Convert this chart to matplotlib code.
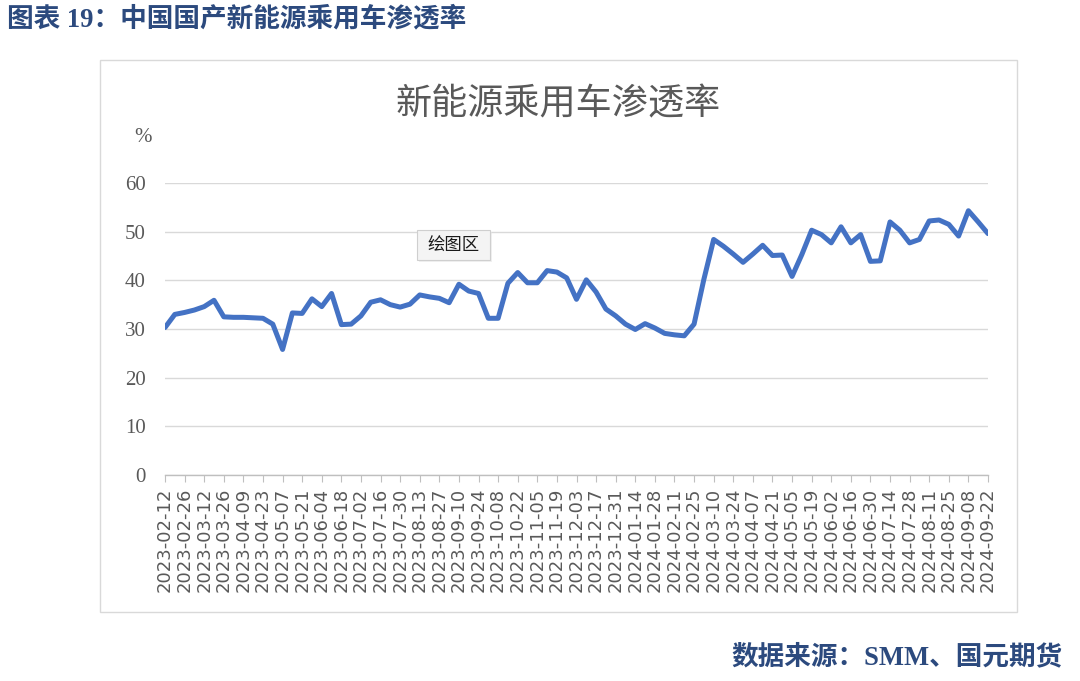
import matplotlib
matplotlib.use("Agg")
import matplotlib.pyplot as plt
from matplotlib.patches import Rectangle, FancyBboxPatch

# ---------------- data ----------------
tick_labels = [
    "2023-02-12", "2023-02-26", "2023-03-12", "2023-03-26", "2023-04-09", "2023-04-23",
    "2023-05-07", "2023-05-21", "2023-06-04", "2023-06-18", "2023-07-02", "2023-07-16",
    "2023-07-30", "2023-08-13", "2023-08-27", "2023-09-10", "2023-09-24", "2023-10-08",
    "2023-10-22", "2023-11-05", "2023-11-19", "2023-12-03", "2023-12-17", "2023-12-31",
    "2024-01-14", "2024-01-28", "2024-02-11", "2024-02-25", "2024-03-10", "2024-03-24",
    "2024-04-07", "2024-04-21", "2024-05-05", "2024-05-19", "2024-06-02", "2024-06-16",
    "2024-06-30", "2024-07-14", "2024-07-28", "2024-08-11", "2024-08-25", "2024-09-08",
    "2024-09-22",
]

penetration = [
    30.3, 33.0, 33.4, 33.9, 34.6, 35.9, 32.5, 32.4, 32.4, 32.3,
    32.2, 31.0, 25.8, 33.3, 33.2, 36.2, 34.6, 37.3, 30.9, 31.0,
    32.7, 35.5, 36.0, 35.0, 34.5, 35.1, 37.0, 36.6, 36.3, 35.4,
    39.2, 37.8, 37.3, 32.2, 32.2, 39.4, 41.6, 39.5, 39.5, 42.0,
    41.7, 40.5, 36.1, 40.1, 37.6, 34.1, 32.7, 31.0, 29.9, 31.1,
    30.2, 29.1, 28.8, 28.6, 31.0, 40.2, 48.4, 47.0, 45.4, 43.7,
    45.4, 47.2, 45.1, 45.2, 40.8, 45.3, 50.3, 49.4, 47.7, 51.0,
    47.7, 49.4, 43.9, 44.0, 52.0, 50.3, 47.7, 48.4, 52.2, 52.4,
    51.5, 49.1, 54.3, 52.0, 49.6,
]

y_ticks = [0, 10, 20, 30, 40, 50, 60]

header_text = "图表 19：中国国产新能源乘用车渗透率"
chart_title = "新能源乘用车渗透率"
source_text = "数据来源：SMM、国元期货"

# ---------------- figure ----------------
W, H = 1080, 681
fig = plt.figure(figsize=(W / 100, H / 100), dpi=100)
fig.patch.set_facecolor("white")

def fx(px):
    return px / W

def fy(py):
    return 1 - py / H

navy = "#2C4A7E"
gray = "#595959"
mixed = ["Liberation Serif", "Noto Sans CJK SC", "DejaVu Sans"]

# outer chart frame
fig.patches.append(Rectangle((fx(100), fy(612)), fx(1017) - fx(100), fy(60) - fy(612),
                             transform=fig.transFigure, fill=False,
                             edgecolor="#D9D9D9", linewidth=1.0))

# header + source
fig.text(fx(7), fy(20), header_text, ha="left", va="center", fontsize=19.2,
         fontweight="bold", color=navy, family=mixed)
fig.text(fx(1063), fy(657), source_text, ha="right", va="center", fontsize=19.2,
         fontweight="bold", color=navy, family=mixed)

# chart title
fig.text(fx(558), fy(104), chart_title, ha="center", va="center", fontsize=26,
         color=gray, family=["Noto Sans CJK SC", "DejaVu Sans"])

# axes
ax = fig.add_axes([fx(165), fy(475), fx(988) - fx(165), fy(183) - fy(475)])
x = list(range(len(penetration)))
ax.plot(x, penetration, color="#4472C4", linewidth=3.6, solid_joinstyle="round",
        solid_capstyle="round", zorder=3)

ax.set_xlim(0, len(penetration) - 1)
ax.set_ylim(0, 60)
ax.set_yticks(y_ticks)
ax.set_yticklabels([str(v) for v in y_ticks], family="Liberation Serif",
                   fontsize=15, color=gray)
ax.grid(axis="y", color="#D9D9D9", linewidth=1.0, zorder=0)
ax.set_axisbelow(True)

tick_pos = list(range(0, len(penetration), 2))
ax.set_xticks(tick_pos)
ax.set_xticklabels(tick_labels, rotation=90, family="DejaVu Sans", fontsize=13,
                   color=gray, va="top", ha="center")
ax.tick_params(axis="x", direction="out", length=5, color="#BFBFBF", pad=4)
ax.tick_params(axis="y", length=0, pad=14)

for s in ["top", "right", "left"]:
    ax.spines[s].set_visible(False)
ax.spines["bottom"].set_color("#BFBFBF")
ax.spines["bottom"].set_linewidth(1.0)

# % unit
fig.text(fx(143), fy(137), "%", ha="center", va="center", fontsize=15,
         color=gray, family="Liberation Serif")

# tooltip box "绘图区"
shadow = FancyBboxPatch((fx(419), fy(262)), fx(490) - fx(417), fy(230) - fy(260),
                        boxstyle="square,pad=0", transform=fig.transFigure,
                        facecolor="#E6E6E6", edgecolor="none", alpha=0.6, zorder=4)
fig.patches.append(shadow)
box = FancyBboxPatch((fx(417), fy(260)), fx(490) - fx(417), fy(230) - fy(260),
                     boxstyle="square,pad=0", transform=fig.transFigure,
                     facecolor="#F4F4F4", edgecolor="#CFCFCF", linewidth=0.8, zorder=5)
fig.patches.append(box)
fig.text(fx(453), fy(245), "绘图区", ha="center", va="center", fontsize=12.5,
         color="#1A1A1A", family=["Noto Sans CJK SC", "DejaVu Sans"], zorder=6)

fig.savefig("out.png", dpi=100, facecolor="white")
